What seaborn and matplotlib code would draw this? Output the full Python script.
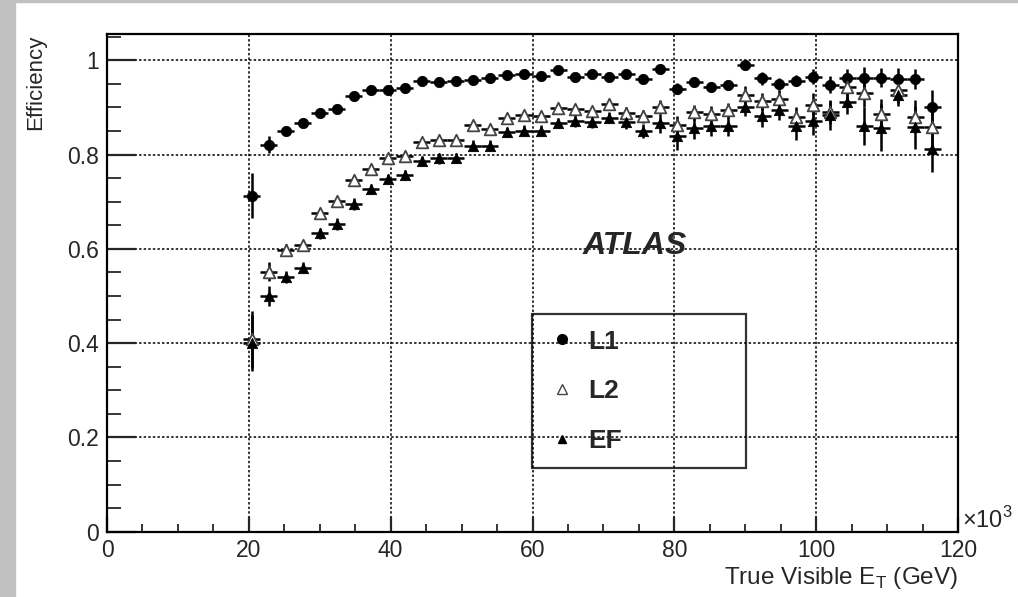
import numpy as np
import pandas as pd
import seaborn as sns
import matplotlib.pyplot as plt
from matplotlib.lines import Line2D
from matplotlib.patches import Rectangle
from matplotlib.ticker import MultipleLocator, FuncFormatter

# bin centres of true visible E_T (x10^3), bins are 2.4 wide
et = [20.4, 22.8, 25.2, 27.6, 30.0, 32.4, 34.8, 37.2, 39.6, 42.0,
      44.4, 46.8, 49.2, 51.6, 54.0, 56.4, 58.8, 61.2, 63.6, 66.0,
      68.4, 70.8, 73.2, 75.6, 78.0, 80.4, 82.8, 85.2, 87.6, 90.0,
      92.4, 94.8, 97.2, 99.6, 102.0, 104.4, 106.8, 109.2, 111.6, 114.0,
      116.4]
bin_half = 1.2

l1_eff = [0.713, 0.821, 0.850, 0.866, 0.888, 0.897, 0.925, 0.938, 0.938, 0.941,
          0.957, 0.954, 0.956, 0.959, 0.962, 0.968, 0.970, 0.966, 0.980, 0.965,
          0.970, 0.965, 0.972, 0.960, 0.982, 0.940, 0.955, 0.943, 0.948, 0.990,
          0.962, 0.950, 0.957, 0.965, 0.948, 0.963, 0.963, 0.963, 0.960, 0.960,
          0.901]
l1_err = [0.047, 0.018, 0.008, 0.007, 0.007, 0.007, 0.007, 0.006, 0.006, 0.006,
          0.006, 0.006, 0.006, 0.006, 0.006, 0.006, 0.006, 0.006, 0.006, 0.007,
          0.007, 0.007, 0.007, 0.008, 0.008, 0.012, 0.010, 0.010, 0.010, 0.010,
          0.014, 0.012, 0.012, 0.016, 0.018, 0.019, 0.023, 0.020, 0.023, 0.021,
          0.037]

l2_eff = [0.408, 0.552, 0.598, 0.609, 0.677, 0.701, 0.746, 0.770, 0.792, 0.798,
          0.826, 0.830, 0.831, 0.862, 0.855, 0.878, 0.883, 0.882, 0.899, 0.897,
          0.892, 0.908, 0.888, 0.881, 0.901, 0.863, 0.890, 0.887, 0.894, 0.927,
          0.913, 0.918, 0.880, 0.906, 0.890, 0.943, 0.931, 0.887, 0.937, 0.880,
          0.858]
l2_err = [0.060, 0.020, 0.012, 0.010, 0.010, 0.010, 0.010, 0.010, 0.010, 0.010,
          0.010, 0.010, 0.010, 0.010, 0.010, 0.010, 0.010, 0.010, 0.010, 0.010,
          0.010, 0.010, 0.012, 0.014, 0.015, 0.018, 0.016, 0.016, 0.016, 0.018,
          0.018, 0.020, 0.022, 0.024, 0.025, 0.025, 0.030, 0.030, 0.028, 0.035,
          0.045]

ef_eff = [0.400, 0.500, 0.540, 0.560, 0.633, 0.653, 0.695, 0.727, 0.748, 0.757,
          0.787, 0.792, 0.793, 0.819, 0.819, 0.848, 0.851, 0.851, 0.867, 0.871,
          0.869, 0.878, 0.869, 0.850, 0.866, 0.840, 0.856, 0.860, 0.860, 0.902,
          0.881, 0.895, 0.860, 0.872, 0.883, 0.912, 0.861, 0.857, 0.926, 0.858,
          0.812]
ef_err = [0.060, 0.022, 0.013, 0.012, 0.012, 0.012, 0.012, 0.011, 0.011, 0.011,
          0.011, 0.011, 0.011, 0.011, 0.011, 0.011, 0.011, 0.011, 0.011, 0.012,
          0.012, 0.012, 0.014, 0.015, 0.020, 0.030, 0.022, 0.020, 0.020, 0.020,
          0.022, 0.022, 0.030, 0.030, 0.030, 0.025, 0.040, 0.050, 0.022, 0.046,
          0.048]

levels = ['L1', 'L2', 'EF']

df = pd.concat([
    pd.DataFrame({'et': et, 'eff': l1_eff, 'err': l1_err, 'level': 'L1'}),
    pd.DataFrame({'et': et, 'eff': l2_eff, 'err': l2_err, 'level': 'L2'}),
    pd.DataFrame({'et': et, 'eff': ef_eff, 'err': ef_err, 'level': 'EF'}),
], ignore_index=True)

sns.set_style('ticks')
plt.rcParams['font.family'] = ['Liberation Sans', 'DejaVu Sans']
plt.rcParams['mathtext.fontset'] = 'custom'
plt.rcParams['mathtext.rm'] = 'Liberation Sans'

fig = plt.figure(figsize=(10.18, 5.97), dpi=100)
fig.patch.set_facecolor('white')
ax = fig.add_axes([107 / 1018, 1 - 531.7 / 597, 851 / 1018, 497.3 / 597])

# grey canvas edge like the ROOT pad
fig.patches.append(Rectangle((0, 0), 15 / 1018, 1, transform=fig.transFigure,
                             color='#c0c0c0', zorder=0))
fig.patches.append(Rectangle((0, 1 - 2 / 597), 1, 2 / 597, transform=fig.transFigure,
                             color='#c0c0c0', zorder=0))

styles = {
    'L1': dict(marker='o', color='black', edgecolor='black', s=55),
    'L2': dict(marker='^', color='white', edgecolor='#444444', s=70, linewidth=1.3),
    'EF': dict(marker='^', color='black', edgecolor='black', s=55),
}

for lev in levels:
    sub = df[df['level'] == lev]
    ax.errorbar(sub['et'], sub['eff'], xerr=bin_half, yerr=sub['err'],
                fmt='none', ecolor='black', elinewidth=1.8, capsize=0, zorder=3)
for lev in levels:
    sub = df[df['level'] == lev]
    sns.scatterplot(data=sub, x='et', y='eff', ax=ax, legend=False, zorder=4,
                    **styles[lev])

ax.set_xlim(0, 120)
ax.set_ylim(0, 1.055)
ax.xaxis.set_major_locator(MultipleLocator(20))
ax.xaxis.set_minor_locator(MultipleLocator(5))
ax.yaxis.set_major_locator(MultipleLocator(0.2))
ax.yaxis.set_minor_locator(MultipleLocator(0.05))
ax.yaxis.set_major_formatter(FuncFormatter(lambda v, _: f'{v:g}'))

ax.grid(True, which='major', color='black', linestyle=(0, (1.6, 1.4)), linewidth=1.1)
ax.set_axisbelow(True)

ax.tick_params(axis='both', which='both', direction='in', top=False, right=False,
               labelsize=16.5, pad=6)
ax.tick_params(axis='y', which='major', length=21, width=1.6)
ax.tick_params(axis='y', which='minor', length=10, width=1.3)
ax.tick_params(axis='x', which='major', length=11, width=1.6, pad=5)
ax.tick_params(axis='x', which='minor', length=6, width=1.3)
for sp in ax.spines.values():
    sp.set_linewidth(1.6)
    sp.set_color('black')

ax.set_xlabel(r'True Visible E$_\mathregular{T}$ (GeV)', fontsize=17.5, loc='right')
ax.xaxis.set_label_coords(1.0, -0.066)
ax.set_ylabel('Efficiency', fontsize=16, loc='top')
ax.yaxis.set_label_coords(-0.072, 1.0)
ax.text(1.005, 0.024, r'$\times$10$^\mathregular{3}$', transform=ax.transAxes,
        ha='left', va='center', fontsize=17)

ax.text(67.1, 0.59, 'ATLAS', fontsize=23, fontweight='bold', fontstyle='italic',
        ha='left', va='baseline', zorder=5)

handles = [
    Line2D([], [], marker='o', color='black', linestyle='none', markersize=7),
    Line2D([], [], marker='^', markerfacecolor='white', markeredgecolor='#444444',
           linestyle='none', markersize=7.5),
    Line2D([], [], marker='^', color='black', linestyle='none', markersize=6),
]
leg = ax.legend(handles, levels, loc='upper left', mode='expand',
                bbox_to_anchor=(0.4994, 0.123, 0.2515, 0.314), borderaxespad=0,
                prop={'size': 19, 'weight': 'bold'}, frameon=True, fancybox=False,
                borderpad=0.58, labelspacing=0.97, handlelength=1.1, handletextpad=0.46)
leg.get_frame().set_edgecolor('black')
leg.get_frame().set_linewidth(1.6)
leg.get_frame().set_facecolor('none')

fig.savefig('out.png', dpi=100)
